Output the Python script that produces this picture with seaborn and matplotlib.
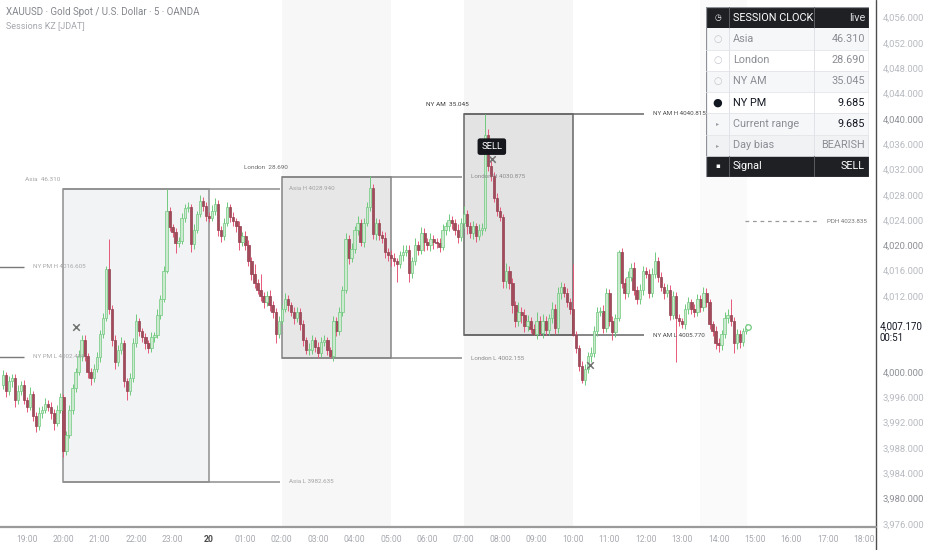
import numpy as np
import pandas as pd
import matplotlib
matplotlib.use("Agg")
import matplotlib.pyplot as plt
from matplotlib.patches import Rectangle
from matplotlib.lines import Line2D
import seaborn as sns

sns.set_theme(style="white")
plt.rcParams["font.family"] = ["Roboto", "DejaVu Sans"]

W, H = 932, 550

# ---------------------------------------------------------------- data
OPEN0 = 3998.0          # open of the first visible 5m candle
T0 = -68 / 12           # first candle time, hours from 00:00 of the 20th

# closes, one row per hour (12 x 5m candles)
closes = [
    3999.5, 3997.0, 3998.5, 3999.0, 3995.5, 3997.0, 3998.0, 3995.5, 3994.5, 3996.5, 3993.0, 3991.5,
    3993.5, 3994.0, 3995.0, 3994.5, 3993.5, 3992.0, 3994.0, 3996.0, 3987.5, 3990.0, 3994.0, 3997.5,
    4000.0, 4002.5, 4005.0, 4002.5, 4000.0, 3999.0, 4000.5, 4002.3, 4006.0, 4008.5, 4016.3, 4010.0,
    4005.0, 4001.5, 4003.5, 4004.5, 3998.5, 3997.0, 3999.0, 4004.5, 4008.0, 4006.5, 4005.5, 4004.5,
    4003.8, 4005.5, 4005.8, 4009.0, 4011.5, 4016.0, 4025.5, 4022.9, 4022.1, 4020.4, 4020.7, 4024.3,
    4025.9, 4026.0, 4020.2, 4022.5, 4025.0, 4027.0, 4026.2, 4024.7, 4024.3, 4025.5, 4026.6, 4022.4,
    4021.5, 4023.5, 4026.0, 4024.5, 4023.8, 4023.0, 4020.5, 4021.5, 4020.0, 4017.5, 4015.5, 4014.0,
    4013.0, 4012.0, 4011.0, 4012.0, 4010.5, 4009.5, 4006.0, 4008.0, 4010.0, 4011.5, 4010.5, 4009.5,
    4008.5, 4009.5, 4007.5, 4005.0, 4003.5, 4003.5, 4005.0, 4004.0, 4003.0, 4004.8, 4005.0, 4003.5,
    4002.5, 4008.0, 4006.5, 4009.5, 4013.0, 4021.0, 4018.0, 4019.5, 4022.5, 4023.5, 4020.5, 4023.5,
    4026.0, 4029.0, 4021.8, 4023.5, 4021.6, 4021.2, 4019.0, 4018.5, 4018.0, 4017.5, 4017.0, 4018.4,
    4019.0, 4019.2, 4015.7, 4017.5, 4020.0, 4019.3, 4022.0, 4020.5, 4020.0, 4021.0, 4020.5, 4020.3,
    4019.8, 4022.5, 4023.0, 4024.0, 4023.5, 4022.5, 4021.3, 4023.5, 4025.0, 4023.0, 4022.0, 4023.0,
    4021.5, 4022.5, 4022.8, 4037.5, 4032.5, 4031.0, 4027.5, 4025.5, 4024.5, 4014.3, 4016.0, 4014.0,
    4010.5, 4008.0, 4009.5, 4009.0, 4007.2, 4008.0, 4006.8, 4006.0, 4008.0, 4006.2, 4008.0, 4006.6,
    4008.5, 4010.0, 4007.0, 4012.5, 4013.5, 4012.5, 4011.0, 4010.0, 4005.8, 4003.8, 4001.0, 3998.8,
    4000.5, 4002.5, 4003.0, 4006.5, 4009.5, 4009.6, 4007.0, 4012.5, 4008.0, 4006.3, 4008.5, 4019.0,
    4014.0, 4012.5, 4015.0, 4016.5, 4013.0, 4011.5, 4013.0, 4016.0, 4015.5, 4012.5, 4015.5, 4017.5,
    4015.0, 4013.5, 4012.5, 4013.0, 4009.0, 4012.0, 4008.5, 4008.0, 4007.5, 4010.0, 4011.0, 4010.0,
    4009.5, 4011.5, 4010.3, 4012.5, 4011.0, 4007.5, 4006.5, 4004.5, 4004.2, 4006.0, 4008.5, 4009.0,
    4008.0, 4004.5, 4006.0, 4004.7, 4006.5, 4007.17,
]
# upper / lower wick beyond the body
wick_up = [
    0.8, 0.5, 0.9, 0.6, 0.7, 1.0, 0.5, 0.8, 0.6, 1.2, 0.5, 0.7,
    1.0, 0.6, 0.9, 0.5, 0.7, 0.6, 0.8, 0.7, 0.5, 0.6, 0.8, 0.6,
    0.7, 1.0, 0.8, 0.9, 0.5, 0.6, 0.7, 0.9, 0.6, 0.8, 0.5, 4.7,
    0.6, 0.8, 0.7, 1.0, 0.5, 0.6, 0.8, 0.9, 1.2, 0.6, 0.5, 0.7,
    0.6, 0.8, 0.5, 0.9, 0.7, 0.8, 3.4, 0.6, 0.5, 0.7, 0.6, 0.8,
    0.7, 0.9, 0.6, 0.8, 0.5, 1.0, 0.6, 0.7, 0.5, 0.8, 0.9, 0.6,
    0.7, 0.8, 0.9, 0.6, 0.7, 0.5, 0.8, 0.6, 0.7, 0.8, 0.6, 1.5,
    0.7, 2.5, 0.6, 0.8, 0.9, 0.7, 0.6, 0.8, 0.7, 0.9, 0.6, 0.5,
    0.7, 0.8, 0.6, 0.7, 0.5, 1.0, 0.9, 0.6, 0.8, 0.7, 0.9, 0.6,
    0.5, 0.9, 0.7, 0.8, 0.6, 1.0, 0.7, 0.8, 0.6, 1.1, 0.7, 0.8,
    0.9, 1.9, 0.7, 0.8, 0.6, 0.7, 0.9, 0.6, 0.7, 0.8, 0.5, 0.7,
    1.0, 0.8, 0.9, 0.6, 1.2, 0.7, 0.9, 0.8, 0.6, 1.0, 0.7, 0.6,
    0.8, 0.9, 0.7, 1.0, 0.6, 0.7, 0.8, 0.9, 1.2, 0.6, 0.7, 0.8,
    0.6, 0.9, 0.7, 3.3, 0.9, 0.8, 0.6, 0.7, 0.6, 0.5, 1.2, 0.8,
    0.9, 0.7, 1.5, 0.8, 0.9, 1.0, 0.7, 0.8, 1.4, 0.9, 1.2, 0.8,
    0.7, 1.1, 0.8, 0.9, 0.7, 0.6, 0.8, 0.7, 7.0, 0.6, 0.5, 0.7,
    0.8, 0.6, 0.9, 0.7, 0.8, 0.6, 0.9, 0.7, 0.6, 0.8, 0.7, 0.2,
    0.6, 0.8, 0.9, 0.7, 0.8, 0.6, 0.9, 0.7, 0.6, 0.8, 1.0, 1.5,
    0.7, 0.8, 0.6, 0.9, 0.7, 0.8, 0.6, 0.7, 0.5, 0.8, 0.9, 0.6,
    0.7, 0.8, 0.6, 0.9, 0.7, 0.5, 0.6, 0.7, 0.8, 0.6, 0.9, 1.0,
    2.5, 0.7, 0.8, 0.6, 0.5, 0.4,
]
wick_dn = [
    0.7, 0.9, 0.6, 0.8, 1.0, 0.5, 0.7, 0.6, 0.9, 0.5, 0.8, 1.0,
    0.6, 0.8, 0.5, 0.7, 0.9, 1.2, 0.6, 0.5, 0.9, 0.6, 0.5, 0.7,
    0.6, 0.5, 0.7, 0.8, 0.9, 1.0, 0.6, 0.5, 0.7, 0.6, 0.5, 0.8,
    0.9, 1.0, 0.6, 0.7, 0.8, 1.5, 0.7, 0.6, 0.5, 0.8, 0.7, 0.9,
    0.8, 0.6, 0.7, 0.5, 0.6, 0.5, 0.4, 0.7, 0.8, 1.6, 0.6, 0.5,
    0.6, 0.7, 1.3, 0.8, 0.6, 0.5, 0.7, 0.8, 0.6, 0.5, 0.7, 0.9,
    1.0, 0.6, 0.5, 0.8, 0.7, 0.9, 1.2, 0.6, 0.8, 0.7, 0.9, 0.8,
    0.7, 0.8, 0.9, 0.6, 0.8, 0.9, 1.5, 0.7, 0.5, 0.6, 0.8, 0.7,
    0.9, 0.6, 0.8, 0.9, 0.7, 0.8, 0.6, 0.9, 0.8, 0.6, 0.7, 0.8,
    0.3, 0.7, 0.8, 0.6, 0.7, 0.5, 0.9, 0.6, 0.7, 0.9, 0.6, 0.7,
    0.5, 0.6, 0.8, 0.9, 0.7, 0.8, 1.0, 0.9, 1.2, 0.8, 2.8, 0.6,
    0.8, 0.7, 1.5, 0.9, 0.6, 0.8, 0.7, 1.4, 0.8, 0.9, 1.0, 0.7,
    0.9, 0.6, 0.8, 0.7, 0.9, 0.8, 0.9, 0.6, 0.7, 1.2, 0.8, 1.0,
    0.9, 0.7, 0.8, 0.5, 0.7, 0.9, 0.6, 0.8, 0.7, 1.0, 1.1, 0.9,
    1.2, 0.9, 0.8, 1.2, 0.9, 0.8, 0.6, 0.2, 0.8, 0.4, 0.8, 0.8,
    0.8, 0.7, 1.0, 0.8, 0.9, 0.7, 0.8, 0.9, 0.1, 0.8, 0.9, 0.6,
    0.8, 0.6, 0.9, 0.7, 0.8, 0.6, 0.9, 0.7, 0.8, 1.3, 0.7, 0.4,
    0.8, 0.9, 0.7, 0.6, 0.9, 0.8, 0.7, 0.9, 0.6, 0.8, 0.7, 0.6,
    0.8, 0.7, 0.9, 0.6, 0.8, 0.7, 7.0, 0.8, 0.6, 0.7, 0.8, 0.9,
    0.8, 0.7, 0.9, 0.6, 0.8, 0.7, 0.8, 0.9, 1.0, 0.7, 0.6, 0.8,
    0.7, 1.5, 0.8, 0.9, 0.6, 0.5,
]

# x axis: hours relative to midnight of the 20th
hour_ticks = list(range(-5, 19))
hour_labels = ["19:00", "20:00", "21:00", "22:00", "23:00", "20", "01:00", "02:00",
               "03:00", "04:00", "05:00", "06:00", "07:00", "08:00", "09:00", "10:00",
               "11:00", "12:00", "13:00", "14:00", "15:00", "16:00", "17:00", "18:00"]
price_ticks = list(range(3976, 4057, 4))
hidden_ticks = [4004, 4008]      # covered by the last-price label

# killzone sessions
sess_names = ["Asia", "London", "NY AM"]
sess_start = [-4, 2, 7]
sess_end = [0, 5, 10]
sess_hi = [4028.940, 4030.875, 4040.815]
sess_lo = [3982.635, 4002.155, 4005.770]
sess_range = [46.310, 28.690, 35.045]

# previous day NY PM levels and PDH
prev_names = ["NY PM H", "NY PM L"]
prev_levels = [4016.605, 4002.405]
PDH = 4023.835
NYPM_START = 13.5

# signal markers
sig_t = [-3.65, 7.77, 10.47]
sig_p = [4007.1, 4033.6, 4001.1]
SELL_T, SELL_P = 7.77, 4035.6

# session clock table
tbl_names = ["Asia", "London", "NY AM", "NY PM", "Current range", "Day bias", "Signal"]
tbl_values = ["46.310", "28.690", "35.045", "9.685", "9.685", "BEARISH", "SELL"]

# ---------------------------------------------------------------- candles
df = pd.DataFrame({"close": closes, "up": wick_up, "dn": wick_dn})
df["t"] = T0 + np.arange(len(df)) / 12
df["open"] = df["close"].shift(1).fillna(OPEN0)
df["top"] = df[["open", "close"]].max(axis=1)
df["bot"] = df[["open", "close"]].min(axis=1)
df["high"] = df["top"] + df["up"]
df["low"] = df["bot"] - df["dn"]
df["bull"] = df["close"] >= df["open"]

fig = plt.figure(figsize=(W / 100, H / 100), dpi=100)
fig.patch.set_facecolor("white")
ax = fig.add_axes([0, 23 / H, 876 / W, 527 / H])
ax.set_facecolor("white")
ax.set_xlim(-209 / 36.4, 667 / 36.4)
ax.set_ylim(3975.5, 4058.77)
for s in ax.spines.values():
    s.set_visible(False)

# full-height killzone bands
for a, b, c in [(2, 5, "#f7f7f8"), (7, 10, "#f6f6f7"), (NYPM_START, df["t"].iloc[-1] + 0.04, "#fafafb")]:
    ax.axvspan(a, b, color=c, zorder=0, lw=0)

sess_fill = ["#f2f3f5", "#e7e7e8", "#e3e3e4"]
sess_edge = ["#8e8e8e", "#858585", "#666666"]
sess_lab = ["#a6a6a6", "#6a6a6a", "#3a3a3a"]
lvl_lab = ["#a3a3a3", "#8c8c8c", "#4a4a4a"]
for i, name in enumerate(sess_names):
    a, b, hi, lo = sess_start[i], sess_end[i], sess_hi[i], sess_lo[i]
    ax.add_patch(Rectangle((a, lo), b - a, hi - lo, facecolor=sess_fill[i],
                           edgecolor=sess_edge[i], lw=1.1, zorder=1))
    ax.hlines([hi, lo], a, b + 1.95, color=sess_edge[i], lw=1.1, zorder=1)
    ax.text(b + 2.2, hi, f"{name} H {hi:.3f}", fontsize=4.5, color=lvl_lab[i], va="center", zorder=6)
    ax.text(b + 2.2, lo, f"{name} L {lo:.3f}", fontsize=4.5, color=lvl_lab[i], va="center", zorder=6)
    ax.text(a - 1.05, hi + 1.4, f"{name}  {sess_range[i]:.3f}", fontsize=4.6,
            color=sess_lab[i], va="center", zorder=6)

for name, lvl in zip(prev_names, prev_levels):
    ax.hlines(lvl, -6.5, -5.08, color="#7a7a7a", lw=1.0, zorder=1)
    ax.text(-4.83, lvl, f"{name} {lvl:.3f}", fontsize=4.5, color="#a8a8a8", va="center", zorder=6)

ax.hlines(PDH, 14.73, 16.73, color="#9a9a9a", lw=0.9, linestyles=(0, (3, 3)), zorder=1)
ax.text(16.98, PDH, f"PDH {PDH:.3f}", fontsize=4.5, color="#777777", va="center")

# candles: (body fill, body edge, wick)
styles = {True: ("#cbeacf", "#6fc97d", "#6fc97d"), False: ("#a34b5b", "#93404f", "#e6587a")}
for bull, g in df.groupby("bull"):
    fc, ec, wc = styles[bull]
    ax.vlines(g["t"], g["low"], g["high"], color=wc, lw=0.7, zorder=3)
    ax.bar(g["t"], (g["top"] - g["bot"]).clip(lower=0.15), bottom=g["bot"], width=0.066,
           color=fc, edgecolor=ec, linewidth=0.5, zorder=4)

last = df.iloc[-1]
ax.plot(last["t"] + 0.06, last["close"], "o", ms=4, mfc="white", mec="#6fc97d", mew=0.9, zorder=5)

sns.scatterplot(x=sig_t, y=sig_p, marker="x", s=22, color="#707070", linewidth=1.1, ax=ax, zorder=6)
ax.text(SELL_T, SELL_P, "SELL", fontsize=6.8, color="white", ha="center", va="center", zorder=8,
        bbox=dict(boxstyle="round,pad=0.4,rounding_size=0.25", fc="#15171c", ec="none"))

# axes ticks
ax.set_xticks(hour_ticks)
ax.set_xticklabels(hour_labels)
for lab, txt in zip(ax.get_xticklabels(), hour_labels):
    lab.set_color("#4a4a4a" if txt == "20" else "#a7aab0")
    if txt == "20":
        lab.set_fontweight("bold")
ax.tick_params(axis="x", length=0, pad=6, labelsize=6.2)
ax.yaxis.tick_right()
ax.set_yticks(price_ticks)
ax.set_yticklabels(["" if v in hidden_ticks else f"{v:,.3f}" for v in price_ticks])
for lab, v in zip(ax.get_yticklabels(), price_ticks):
    lab.set_color("#8d9096" if v % 20 == 0 else "#b7bac0")
ax.tick_params(axis="y", length=0, pad=5, labelsize=6.8)

ytr = ax.get_yaxis_transform()
ax.text(1 + 4 / 876, last["close"], "4,007.170", transform=ytr, fontsize=7, color="#131722",
        va="center", ha="left", zorder=9, clip_on=False)
ax.text(1 + 4 / 876, last["close"] - 1.75, "00:51", transform=ytr, fontsize=7, color="#131722",
        va="center", ha="left", zorder=9, clip_on=False)

# pane separators
fig.add_artist(Line2D([876 / W, 876 / W], [0, 1], color="#4d4d4d", lw=1.0))
fig.add_artist(Line2D([0, 876 / W], [23 / H, 23 / H], color="#9a9a9a", lw=1.6))

# header
fig.text(6 / W, 1 - 12 / H, "XAUUSD · Gold Spot / U.S. Dollar · 5 · OANDA", fontsize=7,
         color="#83868c", va="center")
fig.text(6 / W, 1 - 26 / H, "Sessions KZ [JDAT]", fontsize=6.5, color="#a4a7ad", va="center")

# ---------------------------------------------------------------- session clock table
tab = fig.add_axes([706 / W, 1 - 177 / H, 163 / W, 170 / H])
tab.set_xlim(0, 163)
tab.set_ylim(170, 0)
tab.axis("off")
rh = 170 / 8
c1, c2 = 23, 108
dark = "#1e2024"
row_bg = ["#f6f7f9", "#ffffff", "#f6f7f9", "#ffffff", "#f6f7f9", "#f1f2f4", dark]
name_col = ["#8a8d93", "#8a8d93", "#8a8d93", "#131722", "#8a8d93", "#8a8d93", "white"]
val_col = ["#8a8d93", "#8a8d93", "#8a8d93", "#131722", "#131722", "#8a8d93", "white"]
icons = ["○", "○", "○", "●", "▸", "▸", "▪"]
icon_col = ["#c3c6cc", "#c3c6cc", "#c3c6cc", "#131722", "#9a9da3", "#9a9da3", "white"]
icon_size = [7, 7, 7, 8, 4.5, 4.5, 5]

tab.add_patch(Rectangle((0, 0), 163, rh, fc=dark, ec="none"))
tab.text(c1 / 2, rh / 2, "◷", fontsize=5.5, color="white", ha="center", va="center",
         family=["DejaVu Sans"])
tab.text(c1 + 4, rh / 2, "SESSION CLOCK", fontsize=7.8, color="white", va="center")
tab.text(159, rh / 2, "live", fontsize=7.8, color="#d8dadf", va="center", ha="right")
for i, name in enumerate(tbl_names):
    y0 = rh * (i + 1)
    tab.add_patch(Rectangle((0, y0), 163, rh, fc=row_bg[i], ec="none"))
    tab.text(c1 / 2, y0 + rh / 2, icons[i], fontsize=icon_size[i], color=icon_col[i],
             ha="center", va="center", family=["DejaVu Sans"])
    tab.text(c1 + 4, y0 + rh / 2, name, fontsize=7.8, color=name_col[i], va="center")
    tab.text(159, y0 + rh / 2, tbl_values[i], fontsize=7.8, color=val_col[i], va="center", ha="right")
    if 0 < i < 7:
        tab.plot([0, 163], [y0, y0], color="#e3e5ea", lw=0.6)
for xc in (c1, c2):
    tab.plot([xc, xc], [0, rh], color="#5a5c62", lw=0.7)
    tab.plot([xc, xc], [rh, rh * 7], color="#e0e2e7", lw=0.7)
    tab.plot([xc, xc], [rh * 7, 170], color="#5a5c62", lw=0.7)
tab.add_patch(Rectangle((0, 0), 163, 170, fc="none", ec="#8e9198", lw=0.9))

fig.savefig("out.png", dpi=100)
